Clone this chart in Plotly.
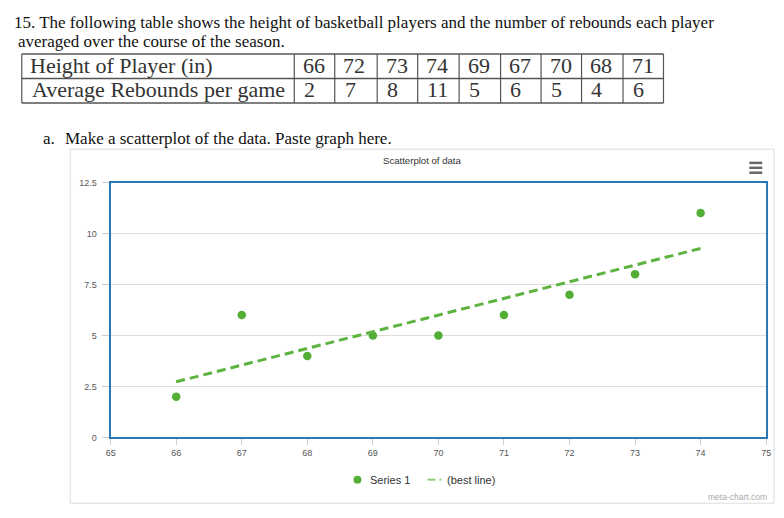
import plotly.graph_objects as go

# ---- data ----
heights = [66, 72, 73, 74, 69, 67, 70, 68, 71]
rebounds = [2, 7, 8, 11, 5, 6, 5, 4, 6]
best_line_x = [66, 74]
best_line_y = [2.73, 9.27]
y_ticks = [0, 2.5, 5, 7.5, 10, 12.5]
y_tick_labels = ["0", "2.5", "5", "7.5", "10", "12.5"]
x_ticks = [65, 66, 67, 68, 69, 70, 71, 72, 73, 74, 75]
row_labels = ["Height of Player (in)", "Average Rebounds per game"]

W, H = 784, 518
def px(x):
    return x / W
def py(y):
    return 1 - y / H

GREEN = "#52AE35"
SERIF = "Liberation Serif"
SANS = "Liberation Sans"

fig = go.Figure()
fig.add_trace(go.Scatter(
    x=heights, y=rebounds, mode="markers", name="Series 1",
    marker=dict(color=GREEN, size=8.5),
))
fig.add_trace(go.Scatter(
    x=best_line_x, y=best_line_y, mode="lines", name="(best line)",
    line=dict(color="#5DB33F", width=3, dash="9px,5px"),
))

shapes = []
annotations = []

def text(xc, y, s, size, color, family):
    annotations.append(dict(x=px(xc), y=py(y), xref="paper", yref="paper", xanchor="center", yanchor="middle",
                            text=s, showarrow=False, font=dict(family=family, size=size, color=color)))

# question text (centres of the text lines)
text(364, 18, "15. The following table shows the height of basketball players and the number of rebounds each player",
     17, "#111", SERIF)
text(148.5, 37, "averaged over the course of the season.", 17, "#111", SERIF)

# table
col_edges = [17, 293, 334, 377, 418, 460, 502, 543, 584, 626, 667]
row_edges = [50, 75, 100]
label_centres = [118.5, 155]
for yy in row_edges:
    shapes.append(dict(type="line", xref="paper", yref="paper", x0=px(17), x1=px(667), y0=py(yy), y1=py(yy),
                       line=dict(color="#555", width=1.5)))
for xx in col_edges:
    shapes.append(dict(type="line", xref="paper", yref="paper", x0=px(xx), x1=px(xx), y0=py(50), y1=py(100),
                       line=dict(color="#555", width=1.2)))
for r, lab in enumerate(row_labels):
    text(label_centres[r], (row_edges[r] + row_edges[r + 1]) / 2 - 1, lab, 22, "#333", SERIF)
for i in range(len(heights)):
    for r, vals in enumerate([heights, rebounds]):
        s = str(vals[i])
        text(col_edges[i + 1] + 11 + 4.5 * len(s), (row_edges[r] + row_edges[r + 1]) / 2 - 1, s, 22, "#333", SERIF)

text(45, 136, "a.", 17, "#111", SERIF)
text(226, 136, "Make a scatterplot of the data. Paste graph here.", 17, "#111", SERIF)

# chart container
shapes.append(dict(type="rect", xref="paper", yref="paper", x0=px(66), x1=px(779), y0=py(147), y1=py(508),
                   line=dict(color="#DDDDDD", width=1)))
text(423, 159, "Scatterplot of data", 9.6, "#333", SANS)
for yy in [161, 166, 171]:
    shapes.append(dict(type="line", xref="paper", yref="paper", x0=px(754), x1=px(767), y0=py(yy), y1=py(yy),
                       line=dict(color="#666", width=2.5)))
text(741.5, 502, "meta-chart.com", 8.5, "#AAA", SANS)

# custom legend
shapes.append(dict(type="circle", xref="paper", yref="paper", x0=px(353), x1=px(361), y0=py(480), y1=py(488),
                   fillcolor=GREEN, line=dict(color=GREEN, width=0)))
text(390, 484, "Series 1", 11, "#333", SANS)
shapes.append(dict(type="line", xref="paper", yref="paper", x0=px(428), x1=px(436), y0=py(484), y1=py(484),
                   line=dict(color="#8CCB78", width=2)))
shapes.append(dict(type="line", xref="paper", yref="paper", x0=px(440), x1=px(442), y0=py(484), y1=py(484),
                   line=dict(color="#8CCB78", width=2)))
text(472, 484, "(best line)", 11, "#333", SANS)

fig.update_layout(
    width=W, height=H, margin=dict(l=0, r=0, t=0, b=0),
    paper_bgcolor="white", plot_bgcolor="white",
    showlegend=False,
    xaxis=dict(domain=[px(107), px(771)], range=[65, 75], tickvals=x_ticks,
               showgrid=False, zeroline=False, showline=True, linecolor="#2B78B5", linewidth=2, mirror=True,
               ticks="outside", ticklen=6, tickcolor="#ccc", ticklabeloverflow="allow",
               tickfont=dict(family=SANS, size=9, color="#555")),
    yaxis=dict(domain=[py(441), py(181)], range=[0, 12.5], tickvals=y_ticks, ticktext=y_tick_labels,
               showgrid=True, gridcolor="#DDDDDD", zeroline=False, showline=True, linecolor="#2B78B5",
               linewidth=2, mirror=True, ticks="outside", ticklen=7, tickcolor="#ccc",
               ticklabelstandoff=3,
               tickfont=dict(family=SANS, size=9, color="#555")),
    shapes=shapes, annotations=annotations,
)

fig.write_html(
    "out.html",
    config={"displayModeBar": False},
    post_script="document.documentElement.style.margin='0';document.body.style.margin='0';"
                "document.documentElement.style.overflow='hidden';document.body.style.overflow='hidden';",
)
